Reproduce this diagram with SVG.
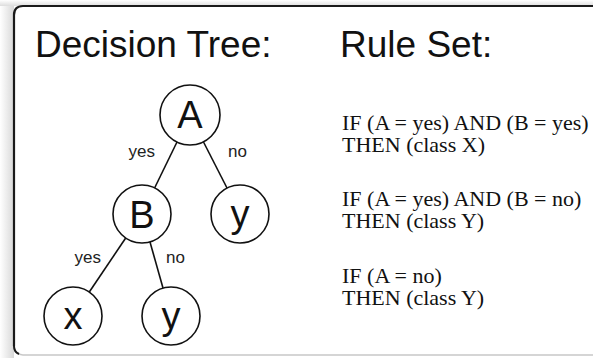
<svg xmlns="http://www.w3.org/2000/svg" width="593" height="358" viewBox="0 0 593 358">
<defs>
<linearGradient id="shL" x1="0" y1="0" x2="1" y2="0">
<stop offset="0" stop-color="#ffffff"/>
<stop offset="1" stop-color="#d8d8d8"/>
</linearGradient>
<linearGradient id="shT" x1="0" y1="0" x2="0" y2="1">
<stop offset="0" stop-color="#ffffff"/>
<stop offset="1" stop-color="#dddddd"/>
</linearGradient>
</defs>
<style>
.node circle{fill:#fff;stroke:#111;stroke-width:1.6}
.node text{font-family:"Liberation Sans",Arial,sans-serif;font-size:38px;text-anchor:middle;fill:#111}
.conn line{stroke:#111;stroke-width:1.6}
.lbl{font-family:"Liberation Sans",Arial,sans-serif;font-size:17px;fill:#222}
.title{font-family:"Liberation Sans",Arial,sans-serif;font-size:37px;fill:#111}
.rule{font-family:"Liberation Serif","Times New Roman",serif;font-size:22px;fill:#111}
</style>
<rect x="0" y="0" width="593" height="358" fill="#fff"/>
<rect x="0" y="0" width="14" height="358" fill="url(#shL)"/>
<rect x="0" y="0" width="593" height="6" fill="url(#shT)"/>
<rect x="14" y="6" width="600" height="349" rx="9" fill="#fff" stroke="#c8c8c8" stroke-width="1.5"/>
<path d="M14,346 L14,15 Q14,6 23,6 L600,6" fill="none" stroke="#1a1a1a" stroke-width="2.2"/>
<path d="M14,346 Q14,352 19,354" fill="none" stroke="#1a1a1a" stroke-width="2"/>
<text class="title" x="35" y="57">Decision Tree:</text>
<text class="title" x="340" y="57">Rule Set:</text>
<g id="connectors" class="conn">
<line x1="177" y1="142" x2="154.6" y2="188"/>
<line x1="203.5" y1="142" x2="227" y2="188"/>
<line x1="125.7" y1="238" x2="89.3" y2="292"/>
<line x1="150" y1="242" x2="163" y2="288"/>
<text class="lbl" x="155" y="157" text-anchor="end">yes</text>
<text class="lbl" x="228" y="157">no</text>
<text class="lbl" x="101" y="263" text-anchor="end">yes</text>
<text class="lbl" x="166" y="263">no</text>
</g>
<g id="nodeA" class="node"><circle cx="190" cy="115" r="30"/><text x="190" y="128">A</text></g>
<g id="nodeB" class="node"><circle cx="142" cy="214" r="29"/><text x="142" y="228">B</text></g>
<g id="nodeY1" class="node"><circle cx="240" cy="214" r="29"/><text x="240" y="227">y</text></g>
<g id="nodeX" class="node"><circle cx="73" cy="316" r="29"/><text x="73" y="329">x</text></g>
<g id="nodeY2" class="node"><circle cx="171" cy="316" r="29"/><text x="171" y="329">y</text></g>
<g id="rules">
<text class="rule" x="342" y="130">IF (A = yes) AND (B = yes)</text>
<text class="rule" x="342" y="152">THEN (class X)</text>
<text class="rule" x="342" y="206">IF (A = yes) AND (B = no)</text>
<text class="rule" x="342" y="228">THEN (class Y)</text>
<text class="rule" x="342" y="283">IF (A = no)</text>
<text class="rule" x="342" y="305">THEN (class Y)</text>
</g>
</svg>
